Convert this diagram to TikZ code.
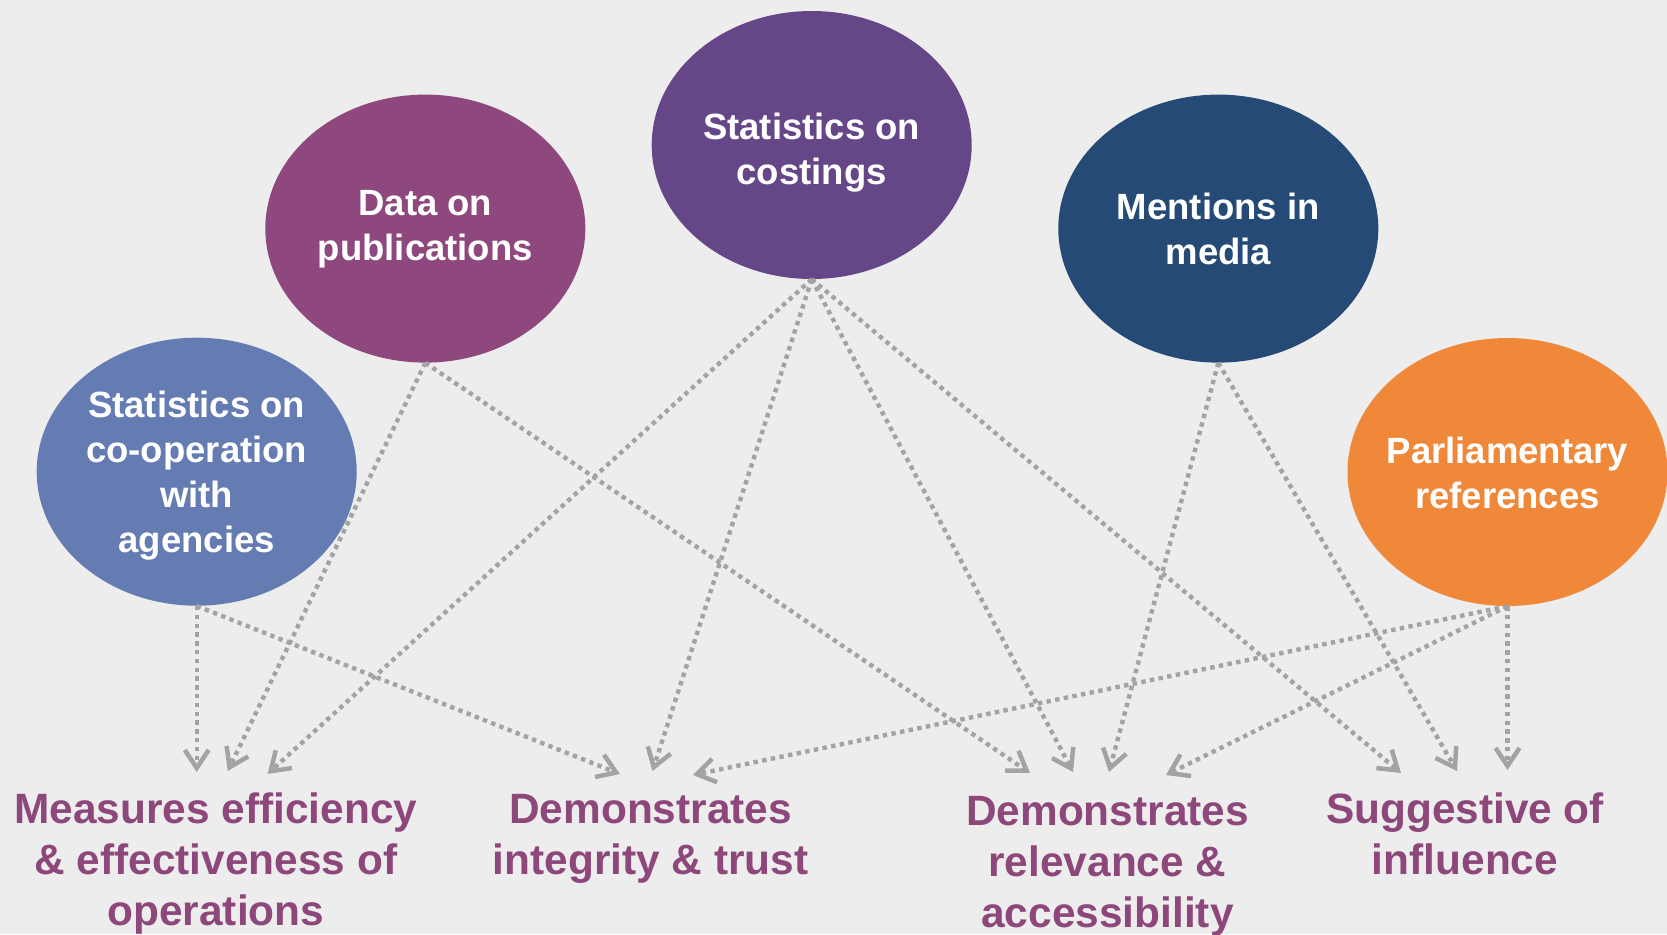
\documentclass[tikz,border=0pt]{standalone}
\usepackage{fontspec}
\setmainfont{Liberation Sans}
\usetikzlibrary{shapes.geometric,arrows.meta}
\definecolor{bg}{HTML}{EDEDED}
\definecolor{txt}{HTML}{8D477B}
\definecolor{arr}{HTML}{A3A3A3}
\definecolor{cblue}{HTML}{657CB3}
\definecolor{cpub}{HTML}{8E487D}
\definecolor{ccost}{HTML}{654788}
\definecolor{cmedia}{HTML}{254A76}
\definecolor{cparl}{HTML}{F0883A}
\begin{document}
\begin{tikzpicture}[x=1pt,y=-1pt,
  bubble/.style={ellipse, minimum width=320pt, minimum height=268pt, inner xsep=-12pt, inner ysep=0pt,
    text=white, font=\fontsize{36.5}{45}\selectfont\bfseries, align=center, text depth=0pt},
  outcome/.style={text=txt, font=\fontsize{42.4}{51}\selectfont\bfseries, align=center, inner sep=0pt, anchor=base},
  link/.style={draw=arr, line width=4.4pt, dash pattern=on 4.4pt off 4.4pt,
    -{Straight Barb[length=18pt,width=24pt,line width=4.5pt]}}]
\fill[bg] (0,0) rectangle (1667,934);
\useasboundingbox (0,0) rectangle (1667,934);

\node[bubble, fill=cblue, text height=162pt] (coop) at (196.7,471.7) {Statistics on\\co-operation\\with\\agencies};
\node[bubble, fill=cpub, text height=64pt] (pubs) at (425.3,228.6) {Data on\\publications};
\node[bubble, fill=ccost, text height=78.6pt] (cost) at (811.7,145) {Statistics on\\costings};
\node[bubble, fill=cmedia, text height=72pt] (media) at (1218.3,228.6) {Mentions in\\media};
\node[bubble, fill=cparl, text height=72pt] (parl) at (1507.5,472) {Parliamentary\\references};

\node[outcome] (meas) at (215.8,925) {Measures efficiency\\\& effectiveness of\\operations};
\node[outcome] (integ) at (650.6,874) {Demonstrates\\integrity \& trust};
\node[outcome] (relev) at (1107.5,927) {Demonstrates\\relevance \&\\accessibility};
\node[outcome] (infl) at (1465,874) {Suggestive of\\influence};

\coordinate (m1) at (196.7,772);
\coordinate (m2) at (227.8,771);
\coordinate (m3) at (267.5,774);
\coordinate (i1) at (620,774);
\coordinate (i2) at (652.5,771);
\coordinate (i3) at (693,775);
\coordinate (r1) at (1030,773);
\coordinate (r2) at (1073,772);
\coordinate (r3) at (1109,772);
\coordinate (r4) at (1166,775);
\coordinate (s1) at (1401,773);
\coordinate (s2) at (1457,771);
\coordinate (s3) at (1507.5,770);

\draw[link] (coop.south) -- (m1);
\draw[link] (pubs.south) -- (m2);
\draw[link] (cost.south) -- (m3);
\draw[link] (coop.south) -- (i1);
\draw[link] (cost.south) -- (i2);
\draw[link] (parl.south) -- (i3);
\draw[link] (pubs.south) -- (r1);
\draw[link] (cost.south) -- (r2);
\draw[link] (media.south) -- (r3);
\draw[link] (parl.south) -- (r4);
\draw[link] (cost.south) -- (s1);
\draw[link] (media.south) -- (s2);
\draw[link] (parl.south) -- (s3);
\end{tikzpicture}
\end{document}
